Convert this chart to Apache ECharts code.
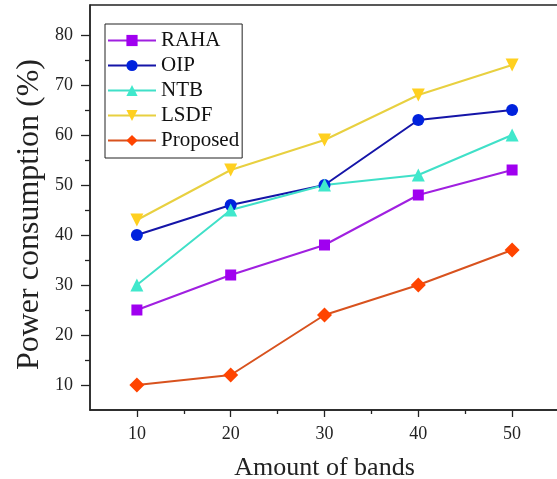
<!DOCTYPE html>
<html>
<head>
<meta charset="utf-8">
<script src="https://cdn.jsdelivr.net/npm/echarts@6/dist/echarts.min.js"></script>
<style>html,body{margin:0;padding:0;background:#fff;}#c{width:557px;height:479px;}</style>
</head>
<body>
<div id="c"></div>
<script>
var bands = [10, 20, 30, 40, 50];
var raha = [25, 32, 38, 48, 53];
var oip = [40, 46, 50, 63, 65];
var ntb = [30, 45, 50, 52, 60];
var lsdf = [43, 53, 59, 68, 74];
var proposed = [10, 12, 24, 30, 37];
var yMajorTicks = [10, 20, 30, 40, 50, 60, 70, 80];
var yMinorTicks = [15, 25, 35, 45, 55, 65, 75];
var xMajorTicks = [10, 20, 30, 40, 50];
var xMinorTicks = [15, 25, 35, 45, 55];

var FONT = 'Liberation Serif';
function pairs(ys) { return bands.map(function (x, i) { return [x, ys[i]]; }); }

var chart = echarts.init(document.getElementById('c'), null, {renderer: 'canvas'});
var axisText = {fontFamily: FONT, fontSize: 18, color: '#222'};
function mkSeries(name, ys, lineColor, markColor, symbol, size, rotate) {
  return {
    name: name, type: 'line', data: pairs(ys), xAxisIndex: 0, yAxisIndex: 0,
    symbol: symbol, symbolSize: size, symbolRotate: rotate || 0,
    lineStyle: {color: lineColor, width: 2},
    itemStyle: {color: markColor},
    emphasis: {disabled: true}, animation: false
  };
}
chart.setOption({
  animation: false,
  grid: {left: 90, top: 5, right: -2, bottom: 69, show: true, borderColor: '#222', borderWidth: 1.3,
         containLabel: false, outerBoundsMode: 'none'},
  legend: {
    left: 105, top: 24, orient: 'vertical',
    itemWidth: 48, itemHeight: 14, itemGap: 4,
    padding: [6, 3, 7, 2],
    borderColor: '#222', borderWidth: 1,
    textStyle: {fontFamily: FONT, fontSize: 21, color: '#111', lineHeight: 20},
    data: ['RAHA', 'OIP', 'NTB', 'LSDF', 'Proposed']
  },
  xAxis: [{
    type: 'value', min: 5, max: 55,
    name: 'Amount of bands', nameLocation: 'middle', nameGap: 45, nameMoveOverlap: false,
    nameTextStyle: {fontFamily: FONT, fontSize: 26, color: '#222'},
    axisLine: {show: true, lineStyle: {color: '#222', width: 1.5}},
    axisTick: {show: true, length: 7, lineStyle: {color: '#222', width: 1.3}, customValues: xMajorTicks},
    axisLabel: Object.assign({margin: 15, customValues: xMajorTicks}, axisText),
    splitLine: {show: false}
  }, {
    type: 'value', min: 5, max: 55, position: 'bottom', offset: 0,
    axisLine: {show: false},
    axisTick: {show: true, length: 4, lineStyle: {color: '#222', width: 1.3}, customValues: xMinorTicks},
    axisLabel: {show: false},
    splitLine: {show: false}
  }],
  yAxis: [{
    type: 'value', min: 5, max: 86,
    name: 'Power consumption (%)', nameLocation: 'middle', nameGap: 44, nameMoveOverlap: false,
    nameTextStyle: {fontFamily: FONT, fontSize: 32, color: '#222', padding: [0, 14, 0, 0]},
    axisLine: {show: true, lineStyle: {color: '#222', width: 1.5}},
    axisTick: {show: true, length: 9, lineStyle: {color: '#222', width: 1.3}, customValues: yMajorTicks},
    axisLabel: Object.assign({margin: 17, customValues: yMajorTicks}, axisText),
    splitLine: {show: false}
  }, {
    type: 'value', min: 5, max: 86, position: 'left', offset: 0,
    axisLine: {show: false},
    axisTick: {show: true, length: 5, lineStyle: {color: '#222', width: 1.3}, customValues: yMinorTicks},
    axisLabel: {show: false},
    splitLine: {show: false}
  }],
  series: [
    mkSeries('RAHA', raha, '#A020E0', '#A000F0', 'rect', 11),
    mkSeries('OIP', oip, '#1515A8', '#0022DD', 'circle', 12),
    mkSeries('NTB', ntb, '#40E0C8', '#40E8CC', 'triangle', 13),
    mkSeries('LSDF', lsdf, '#E8D040', '#FFD020', 'triangle', 13, 180),
    mkSeries('Proposed', proposed, '#D8521E', '#FF4400', 'diamond', 15)
  ]
});
</script>
</body>
</html>
